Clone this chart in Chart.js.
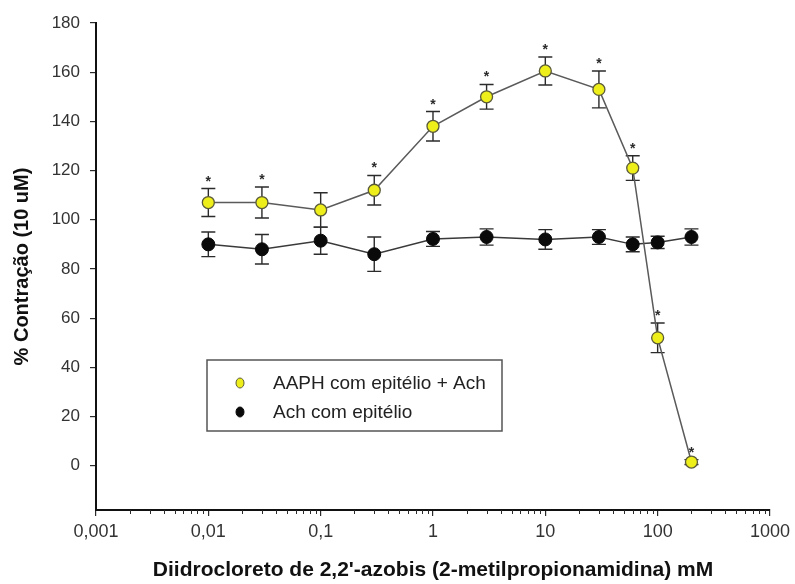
<!DOCTYPE html>
<html>
<head>
<meta charset="utf-8">
<script src="https://cdn.jsdelivr.net/npm/chart.js@4"></script>
<style>
  html, body { margin: 0; padding: 0; background: #fff; }
  #wrap { width: 795px; height: 584px; }
</style>
</head>
<body>
<div id="wrap"><canvas id="chart" width="795" height="584"></canvas></div>
<script>
/* AAPH dose-response — % contraction vs concentration (log x) */

const CONC = [0.01, 0.03, 0.1, 0.3, 1, 3, 10, 30, 60, 100, 200];

const AAPH_MEAN = [107, 107, 104, 112, 138, 150, 160.5, 153, 121, 52, 1.5];
const AAPH_ERR  = [5.7, 6.3, 7, 6, 6, 5, 5.7, 7.5, 5, 6, 1];
const AAPH_SIG  = [true, true, false, true, true, true, true, true, true, true, true];

const ACH_MEAN = [90, 88, 91.5, 86, 92.2, 93, 92, 93, 90, 90.8, 93];
const ACH_ERR  = [5, 6, 5.5, 7, 3, 3.3, 4, 3, 3, 2.5, 3.3];

const X_TICKS = [0.001, 0.01, 0.1, 1, 10, 100, 1000];
const X_LABELS = ['0,001', '0,01', '0,1', '1', '10', '100', '1000'];
const Y_TICKS = [0, 20, 40, 60, 80, 100, 120, 140, 160, 180];

const FONT = "'Liberation Sans', Arial, sans-serif";
const INK = '#2b2b2b';

// error bars (behind the symbols) + significance stars
const errorBars = {
    id: 'errorBars',
    beforeDatasetsDraw(chart) {
        const { ctx, scales: { y } } = chart;
        ctx.save();
        ctx.strokeStyle = INK;
        ctx.lineWidth = 1.4;
        chart.data.datasets.forEach((ds, i) => {
            const meta = chart.getDatasetMeta(i);
            ds.data.forEach((p, j) => {
                const e = ds.errors[j];
                const x = meta.data[j].x;
                const yt = y.getPixelForValue(p.y + e);
                const yb = y.getPixelForValue(p.y - e);
                ctx.beginPath();
                ctx.moveTo(x, yt); ctx.lineTo(x, yb);
                ctx.moveTo(x - 7, yt); ctx.lineTo(x + 7, yt);
                ctx.moveTo(x - 7, yb); ctx.lineTo(x + 7, yb);
                ctx.stroke();
            });
        });
        ctx.restore();
    },
    afterDatasetsDraw(chart) {
        const { ctx, scales: { y } } = chart;
        ctx.save();
        ctx.fillStyle = INK;
        ctx.font = 'bold 14px ' + FONT;
        ctx.textAlign = 'center';
        ctx.textBaseline = 'alphabetic';
        chart.data.datasets.forEach((ds, i) => {
            if (!ds.stars) return;
            const meta = chart.getDatasetMeta(i);
            ds.data.forEach((p, j) => {
                if (!ds.stars[j]) return;
                const x = meta.data[j].x;
                const yt = y.getPixelForValue(p.y + ds.errors[j]);
                ctx.fillText('*', x, yt - 3);
            });
        });
        ctx.restore();
    }
};

// minor log ticks on the x axis
const minorTicks = {
    id: 'minorTicks',
    afterDraw(chart) {
        const { ctx, scales: { x } } = chart;
        ctx.save();
        ctx.strokeStyle = INK;
        ctx.lineWidth = 1;
        ctx.beginPath();
        for (let d = 0; d < X_TICKS.length - 1; d++) {
            for (let m = 2; m <= 9; m++) {
                const px = Math.round(x.getPixelForValue(X_TICKS[d] * m)) + 0.5;
                ctx.moveTo(px, x.top);
                ctx.lineTo(px, x.top + 4);
            }
        }
        ctx.stroke();
        ctx.restore();
    }
};

// boxed legend inside the plot area
const boxLegend = {
    id: 'boxLegend',
    afterDraw(chart, args, opts) {
        const { ctx } = chart;
        ctx.save();
        ctx.strokeStyle = '#555';
        ctx.lineWidth = 1.5;
        ctx.strokeRect(opts.left, opts.top, opts.width, opts.height);
        ctx.font = '19px ' + FONT;
        ctx.textBaseline = 'middle';
        ctx.textAlign = 'left';
        chart.data.datasets.forEach((ds, i) => {
            const cy = opts.top + 23 + i * 29;
            ctx.beginPath();
            ctx.ellipse(opts.left + 33, cy, 4, 5, 0, 0, Math.PI * 2);
            ctx.fillStyle = ds.pointBackgroundColor;
            ctx.fill();
            ctx.lineWidth = 1;
            ctx.strokeStyle = ds.pointBorderColor;
            ctx.stroke();
            ctx.fillStyle = '#222';
            ctx.fillText(ds.label, opts.left + 66, cy + 1);
        });
        ctx.restore();
    }
};

const ctx = document.getElementById('chart').getContext('2d');
new Chart(ctx, {
    type: 'line',
    data: {
        datasets: [{
            label: 'AAPH com epitélio + Ach',
            data: CONC.map((c, i) => ({ x: c, y: AAPH_MEAN[i] })),
            errors: AAPH_ERR,
            stars: AAPH_SIG,
            borderColor: '#5a5a5a',
            borderWidth: 1.5,
            pointBackgroundColor: '#eeee1a',
            pointBorderColor: '#5a5a3a',
            pointBorderWidth: 1.3,
            pointRadius: 6,
            tension: 0,
        }, {
            label: 'Ach com epitélio',
            data: CONC.map((c, i) => ({ x: c, y: ACH_MEAN[i] })),
            errors: ACH_ERR,
            borderColor: '#3a3a3a',
            borderWidth: 1.5,
            pointBackgroundColor: '#0a0a0a',
            pointBorderColor: '#0a0a0a',
            pointBorderWidth: 1,
            pointRadius: 6.5,
            tension: 0,
        }],
    },
    options: {
        responsive: false,
        animation: false,
        layout: { padding: { top: 23, right: 22, left: 0, bottom: 0 } },
        plugins: {
            legend: { display: false },
            tooltip: { enabled: false },
            boxLegend: { left: 207, top: 360, width: 295, height: 71 },
        },
        scales: {
            x: {
                type: 'logarithmic',
                min: 0.001,
                max: 1000,
                afterBuildTicks: s => { s.ticks = X_TICKS.map(v => ({ value: v })); },
                afterFit: s => { s.height = 74; },
                ticks: {
                    autoSkip: false,
                    maxRotation: 0,
                    padding: 5,
                    color: '#333',
                    font: { family: FONT, size: 18 },
                    callback: (v) => X_LABELS[X_TICKS.indexOf(v)] ?? '',
                },
                grid: { drawOnChartArea: false, drawTicks: true, tickLength: 6, color: INK, lineWidth: 1.2 },
                border: { display: true, color: '#111', width: 2 },
                title: {
                    display: true,
                    text: "Diidrocloreto de 2,2'-azobis (2-metilpropionamidina) mM",
                    color: '#111',
                    font: { family: FONT, size: 21, weight: 'bold' },
                    padding: { top: 0, bottom: 1 },
                },
            },
            y: {
                min: -18,
                max: 180,
                afterBuildTicks: s => { s.ticks = Y_TICKS.map(v => ({ value: v })); },
                afterFit: s => { s.width = 96; },
                ticks: {
                    padding: 10,
                    color: '#333',
                    font: { family: FONT, size: 17 },
                },
                grid: { drawOnChartArea: false, drawTicks: true, tickLength: 6, color: INK, lineWidth: 1.2 },
                border: { display: true, color: '#111', width: 2 },
                title: {
                    display: true,
                    text: '% Contração (10 uM)',
                    color: '#111',
                    font: { family: FONT, size: 20, weight: 'bold' },
                    padding: { top: 10, bottom: 0 },
                },
            },
        },
    },
    plugins: [errorBars, minorTicks, boxLegend],
});
</script>
</body>
</html>
